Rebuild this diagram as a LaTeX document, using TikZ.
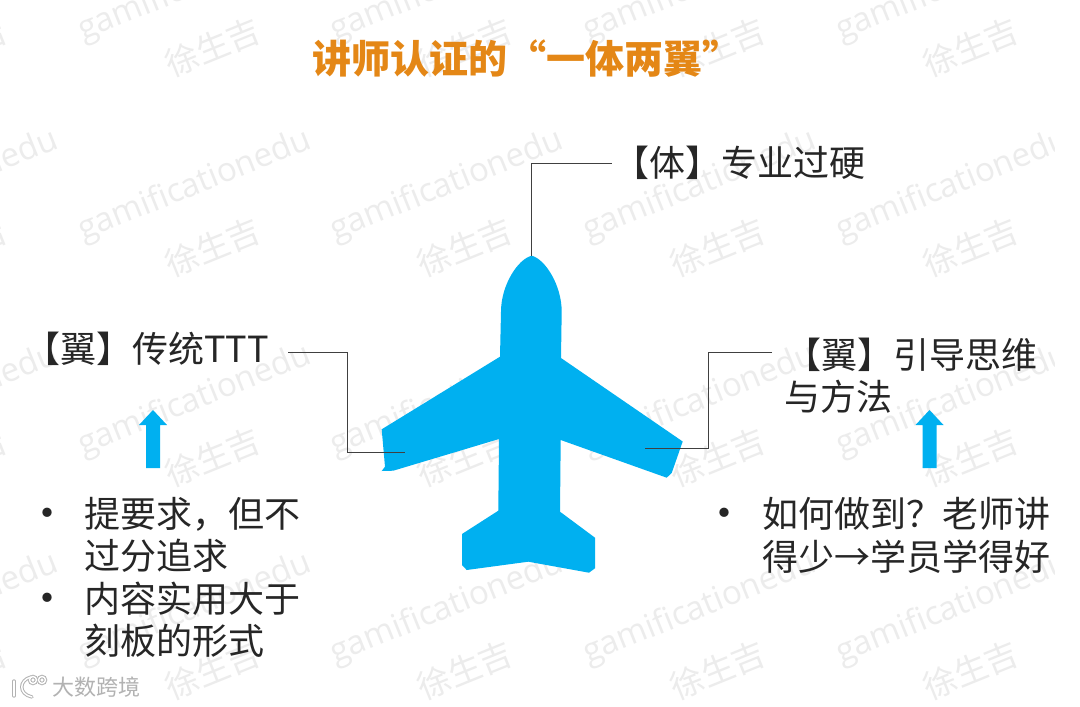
\documentclass[tikz,border=0pt]{standalone}
\usepackage{fontspec}
\setmainfont{Noto Sans CJK SC}
\newfontfamily\wmfont{Open Sans}
\usetikzlibrary{calc}
\definecolor{planeblue}{RGB}{0,176,240}
\definecolor{titleorange}{RGB}{228,135,22}
\definecolor{bodytext}{RGB}{38,38,38}
\definecolor{wmgray}{RGB}{236,236,236}
\tikzset{
  body/.style={anchor=west,inner sep=0pt,text=bodytext,font=\fontsize{36}{36}\selectfont},
  bodyb/.style={anchor=center,inner sep=0pt,text=bodytext,font=\fontsize{44}{44}\selectfont},
  leader/.style={draw=black!75,line width=0.8pt},
  wma/.style={text=wmgray,rotate=22,inner sep=0pt,font=\wmfont\fontsize{33}{33}\selectfont},
  wmb/.style={text=wmgray,rotate=22,inner sep=0pt,font=\fontsize{33}{33}\selectfont},
  logoo/.style={draw=black!30,line width=3.4pt,line cap=round},
  logoi/.style={draw=white,line width=1.4pt,line cap=round},
}
\begin{document}
\begin{tikzpicture}[x=1pt,y=-1pt]
\useasboundingbox (0,0) rectangle (1080,707);
\fill[white] (0,0) rectangle (1080,707);
% watermarks
\foreach \r/\yy/\zz in {0/-14/47,1/186/247,2/401/457,3/609/670}{
  \foreach \c/\xx in {0/-58,1/195,2/447,3/700,4/953}{
    \node[wma] (wa\r\c) at (\xx,\yy) {gamificationedu};
    \pgfmathsetmacro{\bx}{\xx+18}
    \node[wmb] (wb\r\c) at (\bx,\zz) {徐生吉};
  }
}
\fill[white] (1055,0) rectangle (1080,707);
% plane
\fill[planeblue] (531.7,255.7)
  .. controls (545,259) and (561.7,285) .. (561.7,311.7)
  -- (561,358) -- (682.7,441.5) -- (671.7,473) -- (666.7,477.7) -- (560.7,440)
  -- (560,511.7) -- (595,537.7) -- (595,568.3) -- (589,572.7) -- (528.3,561.7)
  -- (466.7,570) -- (462,565) -- (462,534) -- (498.3,510.7) -- (499,439)
  -- (393.3,470.7) -- (381.7,471) -- (385,466.7) -- (381.7,429.3) -- (500,356.7)
  -- (501,311.7) .. controls (501,285) and (518,259) .. (531.7,255.7) -- cycle;
% title
\node[anchor=west,inner sep=0pt,text=titleorange,font=\fontsize{39}{39}\selectfont\bfseries] (title) at (312,59) {讲师认证的“一体两翼”};
% labels
\node[body] (ti) at (613,163) {【体】专业过硬};
\node[body] (yl) at (24,349) {【翼】传统TTT};
\node[body] (yr) at (785,355) {【翼】引导思维};
\node[body] (yr2) at (784,397) {与方法};
% connectors
\coordinate (tiend) at (612,163);
\coordinate (nose) at (531.5,256);
\coordinate (ylend) at (288,352);
\coordinate (lw) at (405,452);
\coordinate (yrend) at (772,352);
\coordinate (rw) at (645,448.5);
\draw[leader] (nose) -- (nose |- tiend) -- (tiend);
\draw[leader] (ylend) -- (347,352) -- (347,452) -- (lw);
\draw[leader] (yrend) -- (708,352) -- (708,448.5) -- (rw);
% up arrows
\foreach \ax in {153,929.5}{
  \fill[planeblue] (\ax,410) -- ++(14,15) -- ++(-7,0) -- ++(0,43) -- ++(-14,0) -- ++(0,-43) -- ++(-7,0) -- cycle;
}
% bullet texts
\node[bodyb] (b1) at (47,519) {•};
\node[body] (l1) at (84,514) {提要求，但不};
\node[body] (l2) at (84,556) {过分追求};
\node[bodyb] (b2) at (47,604) {•};
\node[body] (l3) at (84,599) {内容实用大于};
\node[body] (l4) at (84,641) {刻板的形式};
\node[bodyb] (b3) at (724,519) {•};
\node[body] (r1) at (762,514) {如何做到？老师讲};
\node[body] (r2) at (762,557) {得少→学员学得好};
% logo
\foreach \st in {logoo,logoi}{
  \draw[\st] (14,681) -- (14,696);
  \draw[\st] (31,677) .. controls (19,680) and (18,694) .. (32,697);
  \draw[\st] (33,680) circle (3.5);
  \draw[\st] (42,680) circle (3.5);
}
\node[inner sep=0pt,anchor=west,text=black!30,font=\fontsize{22}{22}\selectfont] (logo) at (52,687) {大数跨境};
\end{tikzpicture}
\end{document}
